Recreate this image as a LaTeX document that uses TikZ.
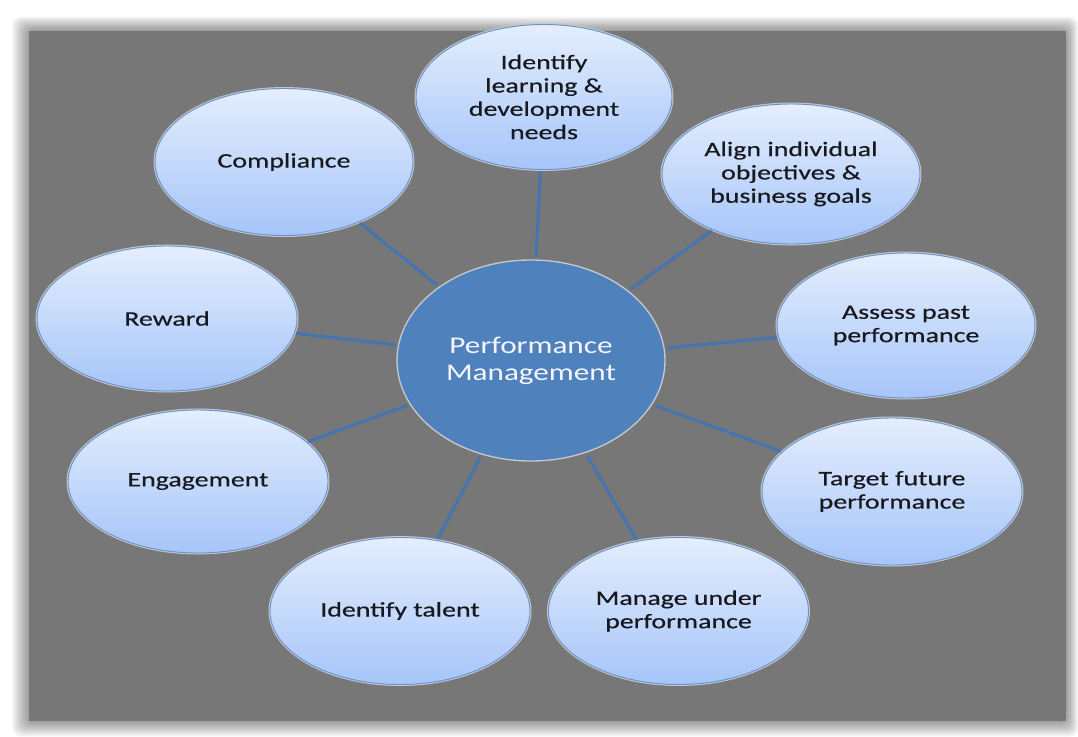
\documentclass[tikz,border=0pt]{standalone}
\usepackage{fontspec}
\newfontfamily\outerfont{Carlito}[FakeStretch=1.35,FakeBold=0.45]
\newfontfamily\hubfont{Carlito}[FakeStretch=1.3]
\usetikzlibrary{shapes.geometric}
\definecolor{bgray}{HTML}{777777}
\definecolor{pmblue}{HTML}{4F81BD}
\definecolor{linkblue}{HTML}{4575B0}
\definecolor{toplight}{HTML}{E4EEFD}
\definecolor{botlight}{HTML}{A6C5F9}
\definecolor{rimblue}{HTML}{6A91C9}
\definecolor{rimgray}{HTML}{C4C8CE}
\definecolor{textdark}{HTML}{18181F}
\tikzset{
  outer/.style={ellipse, inner sep=0pt, top color=toplight, bottom color=botlight,
    draw=rimblue, line width=0.7pt, preaction={draw=rimgray, line width=2.2pt},
    font=\outerfont\fontsize{15.5}{17.5}\selectfont, text=textdark, align=center},
  hub/.style={ellipse, inner sep=0pt, minimum width=201pt, minimum height=150.75pt,
    fill=pmblue, draw=rimgray, line width=1pt,
    font=\hubfont\fontsize{18}{20.25}\selectfont, text=white!96!blue, align=center},
  link/.style={draw=linkblue, line width=2.3pt},
  shadowbox/.style={fill=black, opacity=0.035, rounded corners=6pt}
}
\begin{document}
\begin{tikzpicture}[x=0.75pt,y=-0.75pt]
\useasboundingbox (0,0) rectangle (1078,736);
\fill[white] (0,0) rectangle (1078,736);
% soft shadow round the gray panel
\foreach \i in {1,...,12} {
  \fill[shadowbox] (29-1.4*\i,31-1.2*\i) rectangle (1066+1.0*\i,721+1.3*\i);
}
\fill[bgray] (29,31) rectangle (1066,721);

\node[hub] (pm) at (531,360.5) {Performance\\Management};

\node[outer, minimum width=192pt, minimum height=108.75pt] (learn) at (544,97) {Identify\\learning \&\\development\\needs};
\node[outer, minimum width=193.5pt, minimum height=105pt] (align) at (791,174) {Align individual\\objectives \&\\business goals};
\node[outer, minimum width=193.5pt, minimum height=108.75pt] (assess) at (906,325.5) {Assess past\\performance};
\node[outer, minimum width=195pt, minimum height=110.25pt] (target) at (892,491.5) {Target future\\performance};
\node[outer, minimum width=195pt, minimum height=110.25pt] (manage) at (678.5,611) {Manage under\\performance};
\node[outer, minimum width=195pt, minimum height=110.25pt] (talent) at (400,611) {Identify talent};
\node[outer, minimum width=195pt, minimum height=107.25pt] (engage) at (198,481.5) {Engagement};
\node[outer, minimum width=195pt, minimum height=108.75pt] (reward) at (167,318.5) {Reward};
\node[outer, minimum width=193.5pt, minimum height=110.25pt] (comply) at (284,162) {Compliance};

\foreach \n in {learn,align,assess,target,manage,talent,engage,reward,comply} {
  \draw[link, shorten <=2pt, shorten >=1pt] (pm) -- (\n);
}
\end{tikzpicture}
\end{document}
